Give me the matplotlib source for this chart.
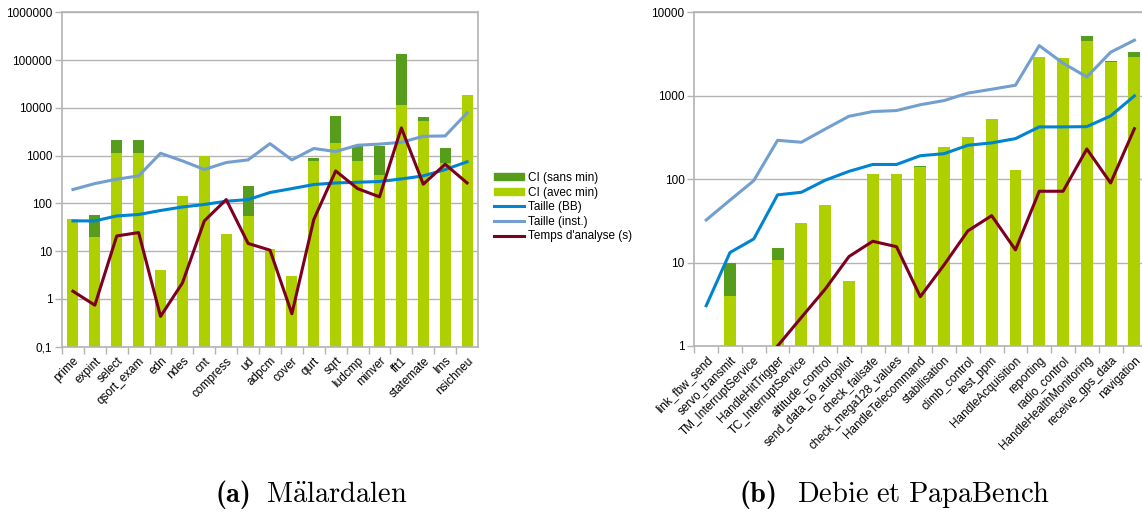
import numpy as np
import matplotlib as mpl
mpl.use('Agg')
import matplotlib.pyplot as plt
from matplotlib.patches import Patch
from matplotlib.lines import Line2D

plt.rcParams['font.family'] = ['Liberation Sans', 'DejaVu Sans']
plt.rcParams['mathtext.fontset'] = 'cm'

# (a) Malardalen
mal_names = ['prime', 'expint', 'select', 'qsort_exam', 'edn', 'ndes', 'cnt', 'compress', 'ud',
             'adpcm', 'cover', 'qurt', 'sqrt', 'ludcmp', 'minver', 'fft1', 'statemate', 'lms', 'nsichneu']
mal_ci_avec = [48, 19.6, 1120, 1120, 4.0, 141, 1000, 22.6, 54, 11, 3.0, 775, 1820, 765, 388,
               11350, 5250, 700, 18400]
mal_ci_sans = [48, 56, 2100, 2100, 4.0, 141, 1000, 22.6, 229, 11, 3.0, 880, 6690, 1707, 1574,
               132000, 6330, 1430, 19000]
mal_bb = [43, 43, 54.6, 58.5, 71, 84, 95, 111, 120, 169, 204, 248, 268, 277, 287, 325, 376, 510, 742]
mal_inst = [195, 260, 321, 376, 1120, 775, 513, 717, 815, 1780, 814, 1410, 1217, 1650, 1740, 1900,
            2540, 2580, 7830]
mal_temps = [1.45, 0.74, 20.8, 24.5, 0.43, 2.16, 43, 120, 14.5, 10.5, 0.49, 46, 478, 204, 137,
             3800, 252, 660, 268]

# (b) Debie et PapaBench
pb_names = ['link_fbw_send', 'servo_transmit', 'TM_InterruptService', 'HandleHitTrigger',
            'TC_InterruptService', 'altitude_control', 'send_data_to_autopilot', 'check_failsafe',
            'check_mega128_values', 'HandleTelecommand', 'stabilisation', 'climb_control', 'test_ppm',
            'HandleAcquisition', 'reporting', 'radio_control', 'HandleHealthMonitoring',
            'receive_gps_data', 'navigation']
pb_ci_avec = [np.nan, 4.0, np.nan, 10.7, 29.9, 49, 6.0, 115, 115, 141, 243, 321, 526, 129, 2920, 2840,
              4540, 2540, 2920]
pb_ci_sans = [np.nan, 10, np.nan, 15, 29.9, 49, 6.0, 115, 115, 145, 243, 321, 526, 129, 2920, 2840,
              5210, 2610, 3350]
pb_bb = [3.04, 13.2, 19.2, 64.8, 69.6, 97, 124, 150, 150, 191, 202, 255, 272, 306, 423, 423, 426, 573, 995]
pb_inst = [32.4, 56, 96, 292, 277, 398, 567, 646, 664, 780, 875, 1075, 1196, 1336, 3990, 2455, 1680,
           3320, 4630]
pb_temps = [np.nan, np.nan, np.nan, 1.0, 2.2, 4.8, 11.8, 18, 15.5, 3.9, 9.4, 24, 36.5, 14.2, 71.6, 71.6,
            230, 90, 403]

c_dark = '#579d1c'
c_light = '#aecf00'
c_bb = '#0084d1'
c_inst = '#729fcf'
c_temps = '#7e0021'
c_grid = '#b3b3b3'

W, H = 1142, 518
fig = plt.figure(figsize=(W / 100, H / 100), dpi=100)


def draw(ax, names, avec, sans, bb, inst, temps, ylo, yhi, ticks, ticklabels):
    x = np.arange(len(names))
    avec = np.array(avec, dtype=float)
    sans = np.array(sans, dtype=float)
    ax.set_yscale('log')
    ax.set_ylim(ylo, yhi)
    ax.set_xlim(-0.5, len(names) - 0.5)
    m = ~np.isnan(avec)
    ax.bar(x[m], avec[m], width=0.5, bottom=ylo * 1e-3, color=c_light, zorder=2)
    ax.bar(x[m], sans[m] - avec[m], width=0.5, bottom=avec[m], color=c_dark, zorder=2)
    ax.plot(x, bb, color=c_bb, lw=2.2, zorder=3)
    ax.plot(x, inst, color=c_inst, lw=2.2, zorder=3)
    ax.plot(x, temps, color=c_temps, lw=2.2, zorder=4)
    ax.set_yticks(ticks)
    ax.set_yticklabels(ticklabels)
    ax.minorticks_off()
    ax.yaxis.grid(True, color=c_grid, lw=1, zorder=0)
    ax.set_axisbelow(True)
    ax.set_xticks(x - 0.5, minor=False)
    ax.set_xticklabels([])
    ax.set_xticks(x, minor=True)
    ax.set_xticklabels(names, minor=True, rotation=45, ha='right', rotation_mode='anchor')
    ax.tick_params(axis='x', which='minor', length=0, pad=6, labelsize=8.5)
    ax.tick_params(axis='x', which='major', length=5, color=c_grid, width=1)
    ax.tick_params(axis='y', length=5, color=c_grid, width=1, labelsize=8.5, pad=2)
    for s in ax.spines.values():
        s.set_color(c_grid)
        s.set_linewidth(1.2)


ax1 = fig.add_axes([62 / W, 1 - 346.7 / H, 416 / W, 334.4 / H])
draw(ax1, mal_names, mal_ci_avec, mal_ci_sans, mal_bb, mal_inst, mal_temps, 0.1, 1e6,
     [0.1, 1, 10, 100, 1000, 10000, 100000, 1000000],
     ['0,1', '1', '10', '100', '1000', '10000', '100000', '1000000'])

ax2 = fig.add_axes([694.3 / W, 1 - 346 / H, 452 / W, 333.7 / H])
draw(ax2, pb_names, pb_ci_avec, pb_ci_sans, pb_bb, pb_inst, pb_temps, 1, 1e4,
     [1, 10, 100, 1000, 10000], ['1', '10', '100', '1000', '10000'])

handles = [Patch(color=c_dark), Patch(color=c_light),
           Line2D([], [], color=c_bb, lw=2.2), Line2D([], [], color=c_inst, lw=2.2),
           Line2D([], [], color=c_temps, lw=2.2)]
labels = ['CI (sans min)', 'CI (avec min)', 'Taille (BB)', 'Taille (inst.)', "Temps d'analyse (s)"]
fig.legend(handles, labels, loc='upper left', bbox_to_anchor=(494 / W, 1 - 172 / H), frameon=False,
           fontsize=8.5, handlelength=2.5, handleheight=0.55, labelspacing=0.22, handletextpad=0.35,
           borderaxespad=0, borderpad=0)

# captions: bold label then roman title
fig.text(215 / W, 1 - 495 / H, '(a)', ha='left', va='center', fontsize=20.5, family='cmb10')
fig.text(407 / W, 1 - 495 / H, r'$\mathrm{M\ddot{a}lardalen}$', ha='right', va='center', fontsize=20.5)
fig.text(740 / W, 1 - 495 / H, '(b)', ha='left', va='center', fontsize=20.5, family='cmb10')
fig.text(1050 / W, 1 - 495 / H, r'$\mathrm{Debie\ et\ PapaBench}$', ha='right', va='center',
         fontsize=20.5)

fig.savefig('out.png', dpi=100)
